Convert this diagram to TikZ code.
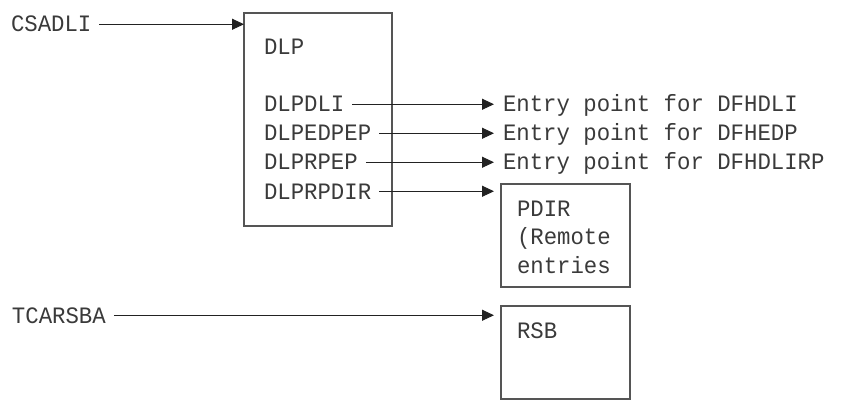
\documentclass[tikz,border=0pt]{standalone}
\usepackage{fontspec}
\newfontfamily\diamono[FakeStretch=0.95]{Liberation Mono}
\usetikzlibrary{arrows.meta}
\definecolor{txtgray}{HTML}{3A3A3A}
\definecolor{boxgray}{HTML}{555555}
\definecolor{linegray}{HTML}{222222}
\begin{document}
\begin{tikzpicture}[x=1pt,y=-1pt,
  lbl/.style={anchor=base west,inner sep=0pt,outer sep=0pt,text=txtgray,
    font=\diamono\fontsize{23.5}{28}\selectfont},
  boxnode/.style={draw=boxgray,line width=1.2pt,inner sep=0pt,outer sep=0pt},
  conn/.style={draw=linegray,line width=1pt,
    -{Triangle[length=12pt,width=11pt]},shorten <=8pt}]
\useasboundingbox (0,0) rectangle (846,401);
% boxes
\node[boxnode,minimum width=148pt,minimum height=213pt] (dlp) at (318,119.5) {};
\node[boxnode,minimum width=129pt,minimum height=103pt] (pdir) at (565.5,235.5) {};
\node[boxnode,minimum width=129pt,minimum height=93pt] (rsb) at (565.5,352.5) {};
% texts
\node[lbl] (csadli) at (11,32) {CSADLI};
\node[lbl] (dlptitle) at (264,55) {DLP};
\node[lbl] (dlpdli) at (264,112) {DLPDLI};
\node[lbl] (dlpedpep) at (264,141) {DLPEDPEP};
\node[lbl] (dlprpep) at (264,170) {DLPRPEP};
\node[lbl] (dlprpdir) at (264,199) {DLPRPDIR};
\node[lbl] (e1) at (503,112) {Entry point for DFHDLI};
\node[lbl] (e2) at (503,141) {Entry point for DFHEDP};
\node[lbl] (e3) at (503,170) {Entry point for DFHDLIRP};
\node[lbl] (pdirt1) at (517,216) {PDIR};
\node[lbl] (pdirt2) at (517,244) {(Remote};
\node[lbl] (pdirt3) at (517,273) {entries};
\node[lbl] (tcarsba) at (12,323) {TCARSBA};
\node[lbl] (rsbt) at (517,338) {RSB};
% connectors
\draw[conn] (csadli.east) -- (csadli.east -| dlp.west);
\draw[conn,shorten >=9pt] (dlpdli.east) -- (dlpdli.east -| e1.west);
\draw[conn,shorten >=9pt] (dlpedpep.east) -- (dlpedpep.east -| e2.west);
\draw[conn,shorten >=9pt] (dlprpep.east) -- (dlprpep.east -| e3.west);
\draw[conn,shorten >=7pt] (dlprpdir.east) -- (dlprpdir.east -| pdir.west);
\draw[conn,shorten >=7pt] (tcarsba.east) -- (tcarsba.east -| rsb.west);
\end{tikzpicture}
\end{document}
